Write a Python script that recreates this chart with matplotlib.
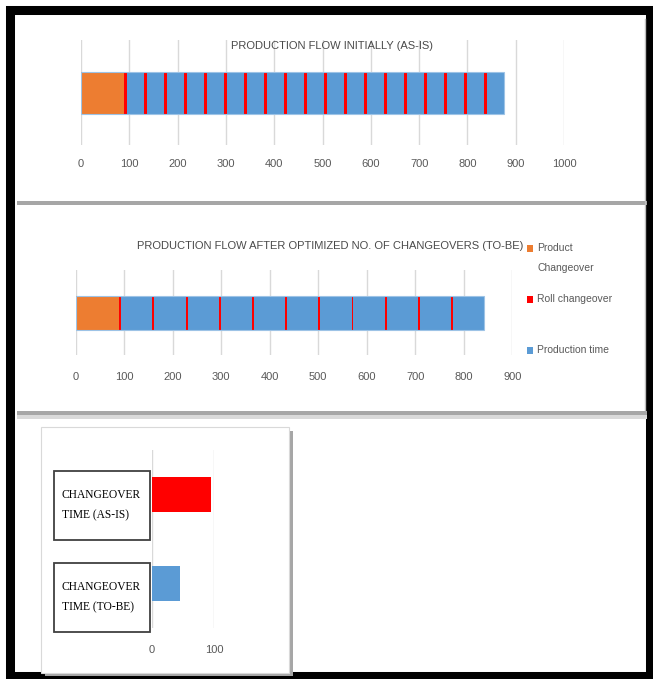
import matplotlib.pyplot as plt
from matplotlib.patches import Rectangle

# --- data ---
product_changeover = 90
asis_roll = [5, 5, 5, 5, 5, 5, 5, 5, 5, 5, 5, 5, 5, 5, 5, 5, 5, 5, 5]
asis_prod = [36.4, 36.4, 36.4, 36.4, 36.4, 36.4, 36.4, 36.4, 36.4, 36.4,
             36.4, 36.4, 36.4, 36.4, 36.4, 36.4, 36.4, 36.4, 36.4]
tobe_roll = [4, 4, 4, 4, 4, 4, 4, 4, 4, 4, 4]
tobe_prod = [64.4, 64.4, 64.4, 64.4, 64.4, 64.4, 64.4, 64.4, 64.4, 64.4, 64.4]

asis_ticks = [0, 100, 200, 300, 400, 500, 600, 700, 800, 900, 1000]
tobe_ticks = [0, 100, 200, 300, 400, 500, 600, 700, 800, 900]

co_labels = ["CHANGEOVER\nTIME (TO-BE)", "CHANGEOVER\nTIME (AS-IS)"]
co_values = [45, 95]
co_ticks = [0, 100]

legend_labels = ["Product\nChangeover", "Roll changeover", "Production time"]

ORANGE = "#ED7D31"
RED = "#FF0000"
BLUE = "#5B9BD5"
GRID = "#D9D9D9"
TXT = "#595959"
NARROW = ["Liberation Sans Narrow", "Liberation Sans", "DejaVu Sans"]

W, H = 653, 679
fig = plt.figure(figsize=(W / 100, H / 100), dpi=100)
fig.patch.set_facecolor("white")


def px_axes(x0, y0, x1, y1, **kw):
    return fig.add_axes([x0 / W, 1 - y1 / H, (x1 - x0) / W, (y1 - y0) / H], **kw)


# background decoration layer (pixel coordinates)
bg = px_axes(0, 0, W, H, zorder=0)
bg.set_xlim(0, W)
bg.set_ylim(H, 0)
bg.axis("off")
# outer black frame
bg.add_patch(Rectangle((10, 10), 640, 666, fill=False, lw=6.5, ec="black"))
# panel separators
bg.add_patch(Rectangle((17, 201), 630, 4, color="#A6A6A6", lw=0))
bg.add_patch(Rectangle((17, 411), 630, 4, color="#A6A6A6", lw=0))
bg.add_patch(Rectangle((17, 415), 630, 4, color="#D9D9D9", lw=0))
bg.plot([645, 645], [19, 410], color="#BFBFBF", lw=1)
# card for bottom chart with shadow
bg.add_patch(Rectangle((45, 431), 248, 245, color="#A6A6A6", lw=0))
bg.add_patch(Rectangle((41, 427), 248, 246, fc="white", ec="#D9D9D9", lw=0.8))


def flow_bar(ax, rolls, prods):
    left = 0
    ax.barh(0, product_changeover, left=left, height=1, color=ORANGE,
            lw=0, zorder=3)
    left += product_changeover
    for r, p in zip(rolls, prods):
        ax.barh(0, r, left=left, height=1, color=RED, lw=0, zorder=3)
        left += r
        ax.barh(0, p, left=left, height=1, color=BLUE, lw=0, zorder=3)
        left += p
    # light outline around the whole bar
    ax.barh(0, left, height=1, fill=False, edgecolor="#9DC3E6", lw=0.8, zorder=4)
    ax.set_ylim(-1.25, 1.25)
    ax.set_yticks([])
    ax.grid(axis="x", color=GRID, lw=1)
    ax.set_axisbelow(True)
    for s in ax.spines.values():
        s.set_visible(False)
    ax.tick_params(axis="x", length=0, pad=10, labelcolor=TXT, labelsize=8)
    for lab in ax.get_xticklabels():
        lab.set_family(NARROW)


# --- top chart: AS-IS ---
ax1 = px_axes(81, 40, 564, 145)
ax1.set_xlim(0, 1000)
ax1.set_xticks(asis_ticks)
flow_bar(ax1, asis_roll, asis_prod)
fig.text(332 / W, 1 - 46 / H, "PRODUCTION FLOW INITIALLY (AS-IS)", ha="center",
         va="center", color="#4a4a4a", fontsize=8, family=NARROW)

# --- middle chart: TO-BE ---
ax2 = px_axes(75.5, 270, 512.3, 355)
ax2.set_xlim(0, 900)
ax2.set_xticks(tobe_ticks)
flow_bar(ax2, tobe_roll, tobe_prod)
ax2.tick_params(axis="x", pad=12)
fig.text(330 / W, 1 - 246 / H,
         "PRODUCTION FLOW AFTER OPTIMIZED NO. OF CHANGEOVERS (TO-BE)",
         ha="center", va="center", color="#4a4a4a", fontsize=8, family=NARROW)

# legend
leg_colors = [ORANGE, RED, BLUE]
leg_y = [248, 299, 350]
for lab, c, y in zip(legend_labels, leg_colors, leg_y):
    bg.add_patch(Rectangle((527, y - 3.5), 6, 7, color=c, lw=0))
    bg.text(537, y, lab.split("\n")[0], va="center", ha="left", color=TXT,
            fontsize=7.5, family=NARROW)
    if "\n" in lab:
        bg.text(537, y + 20, lab.split("\n")[1], va="center", ha="left",
                color=TXT, fontsize=7.5, family=NARROW)

# --- bottom chart: changeover time ---
ax3 = px_axes(151.7, 450, 214.3, 628, zorder=2)
ax3.barh([0, 1], co_values, height=0.4, color=[BLUE, RED], zorder=3)
ax3.set_xlim(0, 100)
ax3.set_ylim(-0.5, 1.5)
ax3.set_xticks(co_ticks)
ax3.set_yticks([])
ax3.grid(axis="x", color=GRID, lw=1)
ax3.set_axisbelow(True)
ax3.patch.set_alpha(0)
for s in ax3.spines.values():
    s.set_visible(False)
ax3.tick_params(axis="x", length=0, pad=12, labelcolor=TXT, labelsize=8)
for lab in ax3.get_xticklabels():
    lab.set_family(NARROW)

# category label boxes
box_y = [(563, 632), (471, 540)]
for lab, (y0, y1) in zip(co_labels, box_y):
    bg.add_patch(Rectangle((54, y0), 96, y1 - y0, fc="white", ec="#404040", lw=1.3))
    bg.text(62, (y0 + y1) / 2, lab, va="center", ha="left", color="black",
            fontsize=8.3, family="Liberation Serif", linespacing=1.9,
            multialignment="left")

fig.savefig("out.png", dpi=100)
